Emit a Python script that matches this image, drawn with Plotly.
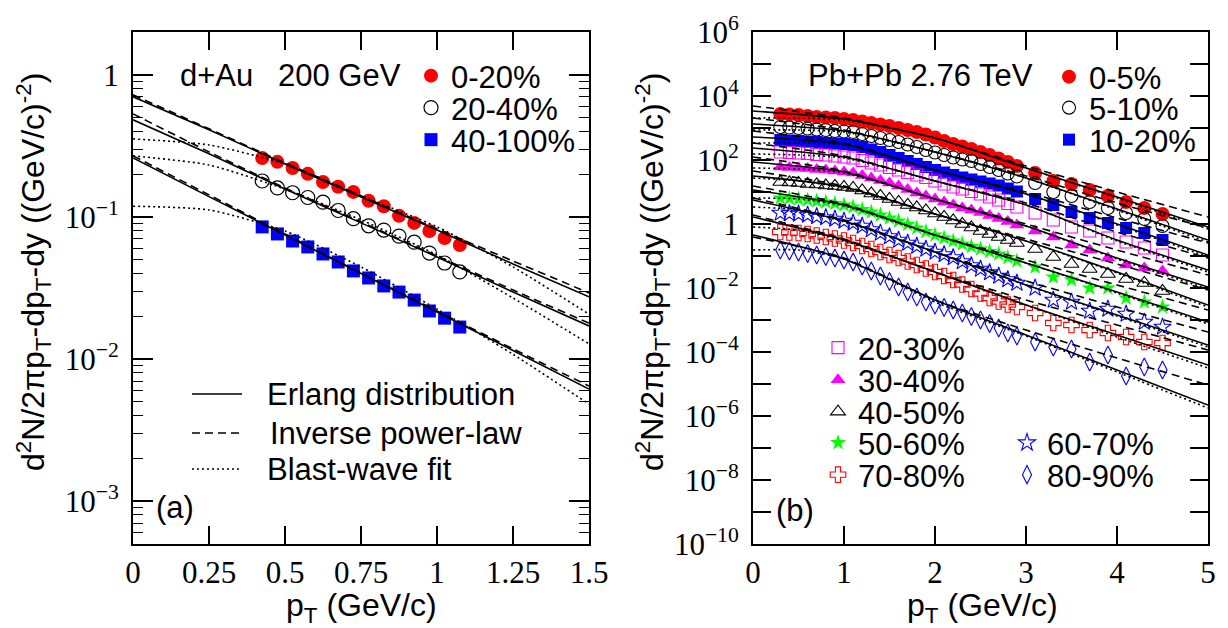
import numpy as np
import plotly.graph_objects as go

W, H = 1228, 628

# ---------------- (a) d+Au 200 GeV ----------------
pt_dau = [0.425, 0.475, 0.525, 0.575, 0.625, 0.675, 0.725, 0.775, 0.825, 0.875, 0.925, 0.975, 1.025, 1.075]
dau_0_20 = [0.260, 0.244, 0.221, 0.201, 0.176, 0.163, 0.150, 0.130, 0.119, 0.102, 0.0908, 0.0797, 0.0711, 0.0635]
dau_20_40 = [0.179, 0.160, 0.148, 0.137, 0.127, 0.111, 0.0972, 0.0866, 0.0808, 0.0733, 0.0664, 0.0557, 0.0474, 0.0410]
dau_40_100 = [0.0851, 0.0759, 0.0677, 0.0615, 0.0549, 0.0482, 0.0417, 0.0372, 0.0327, 0.0296, 0.0260, 0.0218, 0.0194, 0.0168]

fit_pt_dau = [0, 0.25, 0.5, 0.75, 1.0, 1.25, 1.5]
erl_dau_0_20 = [0.700, 0.410, 0.236, 0.138, 0.0810, 0.0467, 0.0274]
pl_dau_0_20 = [0.723, 0.417, 0.240, 0.141, 0.0823, 0.0490, 0.0292]
bw_dau_0_20 = [0.354, 0.321, 0.236, 0.141, 0.0851, 0.0445, 0.0207]
erl_dau_20_40 = [0.482, 0.278, 0.157, 0.0908, 0.0523, 0.0296, 0.0171]
pl_dau_20_40 = [0.531, 0.287, 0.160, 0.0923, 0.0531, 0.0306, 0.0179]
bw_dau_20_40 = [0.269, 0.232, 0.157, 0.0953, 0.0540, 0.0269, 0.0128]
erl_dau_40_100 = [0.260, 0.139, 0.0747, 0.0400, 0.0214, 0.0115, 0.00615]
pl_dau_40_100 = [0.269, 0.143, 0.0759, 0.0403, 0.0218, 0.0118, 0.00646]
bw_dau_40_100 = [0.119, 0.112, 0.0796, 0.0445, 0.0225, 0.0108, 0.00482]

# ---------------- (b) Pb+Pb 2.76 TeV (log10 of yield) ----------------
pt_pbpb = [0.3, 0.4, 0.5, 0.6, 0.7, 0.8, 0.9, 1.0, 1.1, 1.2, 1.3, 1.4, 1.5, 1.6, 1.7, 1.8, 1.9,
           2.0, 2.1, 2.2, 2.3, 2.4, 2.5, 2.6, 2.7, 2.8, 2.9, 3.1, 3.3, 3.5, 3.7, 3.9, 4.1, 4.3, 4.5]
lg_0_5 = [3.438, 3.422, 3.406, 3.375, 3.344, 3.328, 3.313, 3.281, 3.25, 3.203, 3.156, 3.109, 3.063, 3.0, 2.938, 2.875, 2.797,
          2.703, 2.594, 2.5, 2.422, 2.344, 2.25, 2.156, 2.047, 1.938, 1.813, 1.594, 1.344, 1.25, 1.063, 0.875, 0.688, 0.5, 0.313]
lg_5_10 = [3.031, 3.016, 3.0, 2.984, 2.953, 2.938, 2.906, 2.891, 2.875, 2.813, 2.75, 2.688, 2.625, 2.563, 2.484, 2.406, 2.313,
           2.234, 2.156, 2.078, 2.016, 1.969, 1.875, 1.781, 1.688, 1.578, 1.484, 1.281, 1.0, 0.875, 0.688, 0.5, 0.344, 0.156, -0.063]
lg_10_20 = [2.625, 2.609, 2.594, 2.578, 2.563, 2.531, 2.516, 2.5, 2.469, 2.406, 2.328, 2.25, 2.156, 2.063, 1.969, 1.875, 1.781,
            1.688, 1.609, 1.531, 1.453, 1.391, 1.328, 1.266, 1.203, 1.109, 1.016, 0.781, 0.594, 0.375, 0.188, 0.031, -0.125, -0.281, -0.5]
lg_20_30 = [2.25, 2.234, 2.219, 2.203, 2.172, 2.156, 2.125, 2.094, 2.063, 1.984, 1.906, 1.844, 1.766, 1.688, 1.609, 1.531, 1.453,
            1.344, 1.25, 1.156, 1.094, 1.016, 0.938, 0.844, 0.75, 0.641, 0.531, 0.344, 0.125, -0.094, -0.219, -0.438, -0.563, -0.75, -0.969]
lg_30_40 = [1.781, 1.766, 1.75, 1.734, 1.703, 1.688, 1.656, 1.625, 1.594, 1.516, 1.438, 1.359, 1.281, 1.188, 1.078, 0.969, 0.875,
            0.781, 0.688, 0.594, 0.5, 0.438, 0.359, 0.266, 0.172, 0.078, -0.031, -0.219, -0.406, -0.656, -0.813, -1.063, -1.281, -1.375, -1.469]
lg_40_50 = [1.313, 1.297, 1.281, 1.25, 1.234, 1.203, 1.188, 1.156, 1.125, 1.047, 0.953, 0.875, 0.781, 0.688, 0.594, 0.516, 0.422,
            0.328, 0.219, 0.109, 0.0, -0.109, -0.219, -0.313, -0.406, -0.5, -0.594, -0.781, -1.031, -1.25, -1.406, -1.563, -1.719, -1.844, -2.094]
lg_50_60 = [0.813, 0.797, 0.781, 0.75, 0.719, 0.688, 0.641, 0.594, 0.531, 0.453, 0.375, 0.281, 0.188, 0.094, -0.016, -0.125, -0.234,
            -0.344, -0.438, -0.531, -0.625, -0.703, -0.781, -0.859, -0.938, -1.047, -1.156, -1.344, -1.656, -1.75, -2.0, -2.0, -2.313, -2.438, -2.594]
lg_60_70 = [0.344, 0.328, 0.313, 0.281, 0.234, 0.203, 0.156, 0.094, 0.031, -0.063, -0.172, -0.281, -0.391, -0.5, -0.594, -0.688, -0.781,
            -0.875, -0.953, -1.047, -1.172, -1.297, -1.406, -1.516, -1.625, -1.734, -1.844, -2.0, -2.375, -2.438, -2.719, -2.656, -2.813, -3.063, -3.219]
lg_70_80 = [-0.25, -0.266, -0.281, -0.313, -0.359, -0.406, -0.453, -0.516, -0.594, -0.688, -0.781, -0.875, -0.969, -1.063, -1.172, -1.281, -1.391,
            -1.5, -1.625, -1.75, -1.891, -2.031, -2.172, -2.313, -2.422, -2.516, -2.594, -2.781, -3.094, -3.156, -3.313, -3.406, -3.531, -3.688, -3.719]
lg_80_90 = [-0.813, -0.844, -0.875, -0.922, -0.969, -1.016, -1.063, -1.125, -1.188, -1.313, -1.469, -1.625, -1.797, -1.969, -2.125, -2.281, -2.438,
            -2.531, -2.609, -2.688, -2.781, -2.891, -3.0, -3.109, -3.25, -3.406, -3.5, -3.688, -3.844, -3.906, -4.313, -4.094, -4.75, -4.469, -4.563]

# fit curves for (b), log10 of yield
fit_pt_pbpb = [0, 1, 2, 3, 4, 5]
fit_pt_pbpb_bw = [0, 0.5, 1, 2, 3, 4, 5]
erl_0_5 = [3.531, 3.281, 2.688, 1.75, 0.844, -0.094]
erl_5_10 = [3.125, 2.906, 2.25, 1.438, 0.469, -0.5]
erl_10_20 = [2.719, 2.5, 1.688, 0.938, 0.0, -0.969]
erl_20_30 = [2.375, 2.094, 1.344, 0.594, -0.5, -1.438]
erl_30_40 = [1.938, 1.625, 0.781, -0.063, -1.063, -1.969]
erl_40_50 = [1.5, 1.156, 0.313, -0.531, -1.5, -2.531]
erl_50_60 = [1.063, 0.594, -0.344, -1.219, -2.125, -3.063]
erl_60_70 = [0.75, 0.094, -0.875, -1.906, -2.844, -3.781]
erl_70_80 = [0.219, -0.5, -1.5, -2.531, -3.469, -4.406]
erl_80_90 = [-0.344, -1.094, -2.375, -3.469, -4.563, -5.656]
pl_0_5 = [3.688, 3.313, 2.688, 1.813, 1.0, 0.219]
pl_5_10 = [3.313, 2.938, 2.25, 1.5, 0.656, -0.125]
pl_10_20 = [2.906, 2.531, 1.688, 1.0, 0.188, -0.594]
pl_20_30 = [2.531, 2.125, 1.344, 0.656, -0.25, -1.063]
pl_30_40 = [2.094, 1.656, 0.781, 0.0, -0.813, -1.594]
pl_40_50 = [1.656, 1.188, 0.313, -0.469, -1.25, -2.063]
pl_50_60 = [1.188, 0.625, -0.344, -1.125, -1.906, -2.688]
pl_60_70 = [0.813, 0.125, -0.875, -1.781, -2.594, -3.375]
pl_70_80 = [0.281, -0.469, -1.5, -2.375, -3.156, -3.938]
pl_80_90 = [-0.406, -1.063, -2.375, -3.313, -4.188, -5.031]
bw_0_5 = [3.313, 3.313, 3.25, 2.688, 1.75, 0.813, -0.156]
bw_5_10 = [2.938, 2.938, 2.875, 2.25, 1.438, 0.438, -0.563]
bw_10_20 = [2.531, 2.531, 2.469, 1.688, 0.938, -0.031, -1.031]
bw_20_30 = [2.188, 2.156, 2.063, 1.344, 0.594, -0.531, -1.5]
bw_30_40 = [1.75, 1.719, 1.594, 0.781, -0.063, -1.094, -2.031]
bw_40_50 = [1.438, 1.344, 1.125, 0.313, -0.531, -1.531, -2.594]
bw_50_60 = [0.813, 0.781, 0.563, -0.344, -1.219, -2.156, -3.125]
bw_60_70 = [0.531, 0.438, 0.063, -0.875, -1.906, -2.875, -3.844]
bw_70_80 = [-0.094, -0.188, -0.531, -1.5, -2.531, -3.531, -4.5]
bw_80_90 = [-0.813, -0.813, -1.094, -2.438, -3.5, -4.625, -5.75]

# tick labels
ticks_a_x = [0, 0.25, 0.5, 0.75, 1, 1.25, 1.5]
ticktext_a_x = ["0", "0.25", "0.5", "0.75", "1", "1.25", "1.5"]
ticks_a_y = [1e-3, 1e-2, 1e-1, 1]
ticktext_a_y = ["10<sup>\u22123</sup>", "10<sup>\u22122</sup>", "10<sup>\u22121</sup>", "1"]
ticks_b_x = [0, 1, 2, 3, 4, 5]
ticktext_b_x = ["0", "1", "2", "3", "4", "5"]
label_decades_b = [-10, -8, -6, -4, -2, 0, 2, 4, 6]
other_decades_b = [-9, -7, -5, -3, -1, 1, 3, 5]


def px(x):
    return x / W


def py(y):
    return 1 - y / H


SANS = "Liberation Sans"
SERIF = "Liberation Serif"

fig = go.Figure()


def leg_name(i):
    return "legend" if i == 1 else f"legend{i}"


# ---- (a) data ----
data_a = [
    ("0-20%", dau_0_20, dict(symbol="circle", size=14, color="#ff0000", line=dict(width=0)), 1),
    ("20-40%", dau_20_40, dict(symbol="circle-open", size=14, color="black", line=dict(width=1.2)), 2),
    ("40-100%", dau_40_100, dict(symbol="square", size=13, color="#0000ff", line=dict(width=0)), 3),
]
for name, vals, mk, li in data_a:
    fig.add_trace(go.Scatter(x=pt_dau, y=vals, mode="markers", name=name, marker=mk,
                             xaxis="x", yaxis="y", legend=leg_name(li)))

LW = 1.6
DASH = "8px,5px"
DOT = "2px,3px"
for erl, pl, bw in [(erl_dau_0_20, pl_dau_0_20, bw_dau_0_20),
                    (erl_dau_20_40, pl_dau_20_40, bw_dau_20_40),
                    (erl_dau_40_100, pl_dau_40_100, bw_dau_40_100)]:
    for vals, dash in [(bw, DOT), (pl, DASH), (erl, "solid")]:
        fig.add_trace(go.Scatter(x=fit_pt_dau, y=vals, mode="lines", showlegend=False,
                                 line=dict(color="black", width=LW, dash=dash, shape="spline", smoothing=0.6),
                                 xaxis="x", yaxis="y", hoverinfo="skip"))

# ---- (b) data ----
data_b = [
    ("0-5%", lg_0_5, dict(symbol="circle", size=14, color="#ff0000", line=dict(width=0)), 4),
    ("5-10%", lg_5_10, dict(symbol="circle-open", size=13, color="black", line=dict(width=1.1)), 5),
    ("10-20%", lg_10_20, dict(symbol="square", size=12, color="#0000ff", line=dict(width=0)), 6),
    ("20-30%", lg_20_30, dict(symbol="square-open", size=12, color="#ff00ff", line=dict(width=1.1)), 7),
    ("30-40%", lg_30_40, dict(symbol="triangle-up", size=13, color="#ff00ff", line=dict(width=0)), 8),
    ("40-50%", lg_40_50, dict(symbol="triangle-up-open", size=13, color="black", line=dict(width=1.1)), 9),
    ("50-60%", lg_50_60, dict(symbol="star", size=12, color="#00ff00", line=dict(width=0)), 10),
    ("70-80%", lg_70_80, dict(symbol="cross-open", size=13, color="#ff0000", line=dict(width=1.1)), 11),
    ("60-70%", lg_60_70, dict(symbol="star-open", size=13, color="#0000ff", line=dict(width=1.1)), 12),
    ("80-90%", lg_80_90, dict(symbol="diamond-tall-open", size=13, color="#0000ff", line=dict(width=1.1)), 13),
]
for name, lg, mk, li in data_b:
    fig.add_trace(go.Scatter(x=pt_pbpb, y=10 ** np.array(lg), mode="markers", name=name, marker=mk,
                             xaxis="x2", yaxis="y2", legend=leg_name(li)))

fits_b = [(erl_0_5, pl_0_5, bw_0_5), (erl_5_10, pl_5_10, bw_5_10), (erl_10_20, pl_10_20, bw_10_20),
          (erl_20_30, pl_20_30, bw_20_30), (erl_30_40, pl_30_40, bw_30_40), (erl_40_50, pl_40_50, bw_40_50),
          (erl_50_60, pl_50_60, bw_50_60), (erl_60_70, pl_60_70, bw_60_70), (erl_70_80, pl_70_80, bw_70_80),
          (erl_80_90, pl_80_90, bw_80_90)]
for erl, pl, bw in fits_b:
    fig.add_trace(go.Scatter(x=fit_pt_pbpb_bw, y=10 ** np.array(bw), mode="lines", showlegend=False,
                             line=dict(color="black", width=LW, dash=DOT, shape="spline", smoothing=0.6),
                             xaxis="x2", yaxis="y2", hoverinfo="skip"))
    fig.add_trace(go.Scatter(x=fit_pt_pbpb, y=10 ** np.array(pl), mode="lines", showlegend=False,
                             line=dict(color="black", width=LW, dash=DASH, shape="spline", smoothing=0.6),
                             xaxis="x2", yaxis="y2", hoverinfo="skip"))
    fig.add_trace(go.Scatter(x=fit_pt_pbpb, y=10 ** np.array(erl), mode="lines", showlegend=False,
                             line=dict(color="black", width=LW, dash="solid", shape="spline", smoothing=0.6),
                             xaxis="x2", yaxis="y2", hoverinfo="skip"))

# ---- axes ----
TICKFONT = dict(family=SERIF, size=31, color="black")
common = dict(showline=True, linecolor="black", linewidth=2, mirror="allticks", ticks="inside",
              tickcolor="black", tickwidth=1.6, showgrid=False, zeroline=False, automargin=False)
ydom = [1 - 544 / H, 1 - 32 / H]

minor_a = [k * 10.0 ** e for e in range(-4, 1) for k in range(2, 10) if 5e-4 <= k * 10.0 ** e <= 2]
half_b = [0.5 * 10.0 ** n for n in range(-9, 7)]
ticktext_b_y = ["1" if n == 0 else "10<sup>" + str(n).replace("-", "\u2212") + "</sup>" for n in label_decades_b]

fig.update_layout(
    width=W, height=H, margin=dict(l=0, r=0, t=0, b=0), template="none",
    paper_bgcolor="white", plot_bgcolor="white", font=dict(family=SERIF, size=31, color="black"),
    showlegend=True,
)

fig.update_layout(
    xaxis=dict(common, domain=[133 / W, 589 / W], range=[0, 1.5], tickmode="array", tickvals=ticks_a_x,
               ticktext=ticktext_a_x, ticklen=18, anchor="y", ticklabelstandoff=0, tickfont=TICKFONT),
    yaxis=dict(common, domain=ydom, type="log", range=[np.log10(5e-4), np.log10(2)], tickmode="array",
               tickvals=ticks_a_y, ticktext=ticktext_a_y, ticklen=20, anchor="x", ticklabelstandoff=6,
               tickfont=TICKFONT,
               minor=dict(tickmode="array", tickvals=minor_a, ticklen=10, tickwidth=1.4, ticks="inside",
                          tickcolor="black", showgrid=False)),
    xaxis2=dict(common, domain=[753 / W, 1208 / W], range=[0, 5], tickmode="array", tickvals=ticks_b_x,
                ticktext=ticktext_b_x, ticklen=18, anchor="y2", ticklabelstandoff=0, tickfont=TICKFONT),
    yaxis2=dict(common, domain=ydom, type="log", range=[-10, 6], tickmode="array",
                tickvals=[10.0 ** n for n in label_decades_b], ticktext=ticktext_b_y, ticklen=18, anchor="x2",
                ticklabelstandoff=6, tickfont=TICKFONT,
                minor=dict(tickmode="array", tickvals=[10.0 ** n for n in other_decades_b], ticklen=18,
                           tickwidth=1.6, ticks="inside", tickcolor="black", showgrid=False)),
    yaxis3=dict(domain=ydom, type="log", range=[-10, 6], overlaying="y2", anchor="x2", side="left",
                showline=False, mirror="allticks", ticks="inside", tickmode="array", tickvals=half_b,
                ticklen=9, tickwidth=1.4, tickcolor="black", showticklabels=False, showgrid=False,
                zeroline=False, automargin=False),
)

# ---- legends (one per entry, positioned like the original) ----
leg_pos = {1: (435, 76), 2: (435, 108), 3: (435, 140),
           4: (1073, 77), 5: (1073, 108), 6: (1073, 140),
           7: (842, 348), 8: (842, 380), 9: (842, 412), 10: (842, 443), 11: (842, 475),
           12: (1031, 443), 13: (1031, 475)}
leg_layout = {}
for i, (cx, cy) in leg_pos.items():
    leg_layout[leg_name(i)] = dict(x=px(cx - 24), y=py(cy), xanchor="left", yanchor="middle",
                                   bgcolor="rgba(0,0,0,0)", borderwidth=0, tracegroupgap=0,
                                   font=dict(family=SANS, size=31, color="black"))
fig.update_layout(**leg_layout)

# ---- texts ----
ann = []


def text(t, x, y, size=31, xanchor="left", angle=0, family=SANS):
    ann.append(dict(text=t, x=px(x), y=py(y), xref="paper", yref="paper", xanchor=xanchor,
                    yanchor="middle", showarrow=False, textangle=angle,
                    font=dict(family=family, size=size, color="black")))


text("d+Au", 178, 76)
text("200 GeV", 276, 76)
text("Pb+Pb 2.76 TeV", 806, 76)
text("(a)", 154, 507)
text("(b)", 774, 510)
text("Erlang distribution", 265, 394)
text("Inverse power-law", 268, 433)
text("Blast-wave fit", 265, 469)
ytitle = "d<sup>2</sup>N/2\u03c0p<sub>T</sub>-dp<sub>T</sub>-dy ((GeV/c)<sup>-2</sup>)"
text(ytitle, 33, 272, size=32, xanchor="center", angle=-90)
text(ytitle, 652, 272, size=32, xanchor="center", angle=-90)
text("p<sub>T</sub> (GeV/c)", 361, 607, size=32, xanchor="center")
text("p<sub>T</sub> (GeV/c)", 982, 607, size=32, xanchor="center")

shapes = []
for yy, dash in [(394, "solid"), (433, DASH), (469, DOT)]:
    shapes.append(dict(type="line", xref="paper", yref="paper", x0=px(192), x1=px(242), y0=py(yy), y1=py(yy),
                       line=dict(color="black", width=LW, dash=dash)))

fig.update_layout(annotations=ann, shapes=shapes)

fig.write_html("out.html")
